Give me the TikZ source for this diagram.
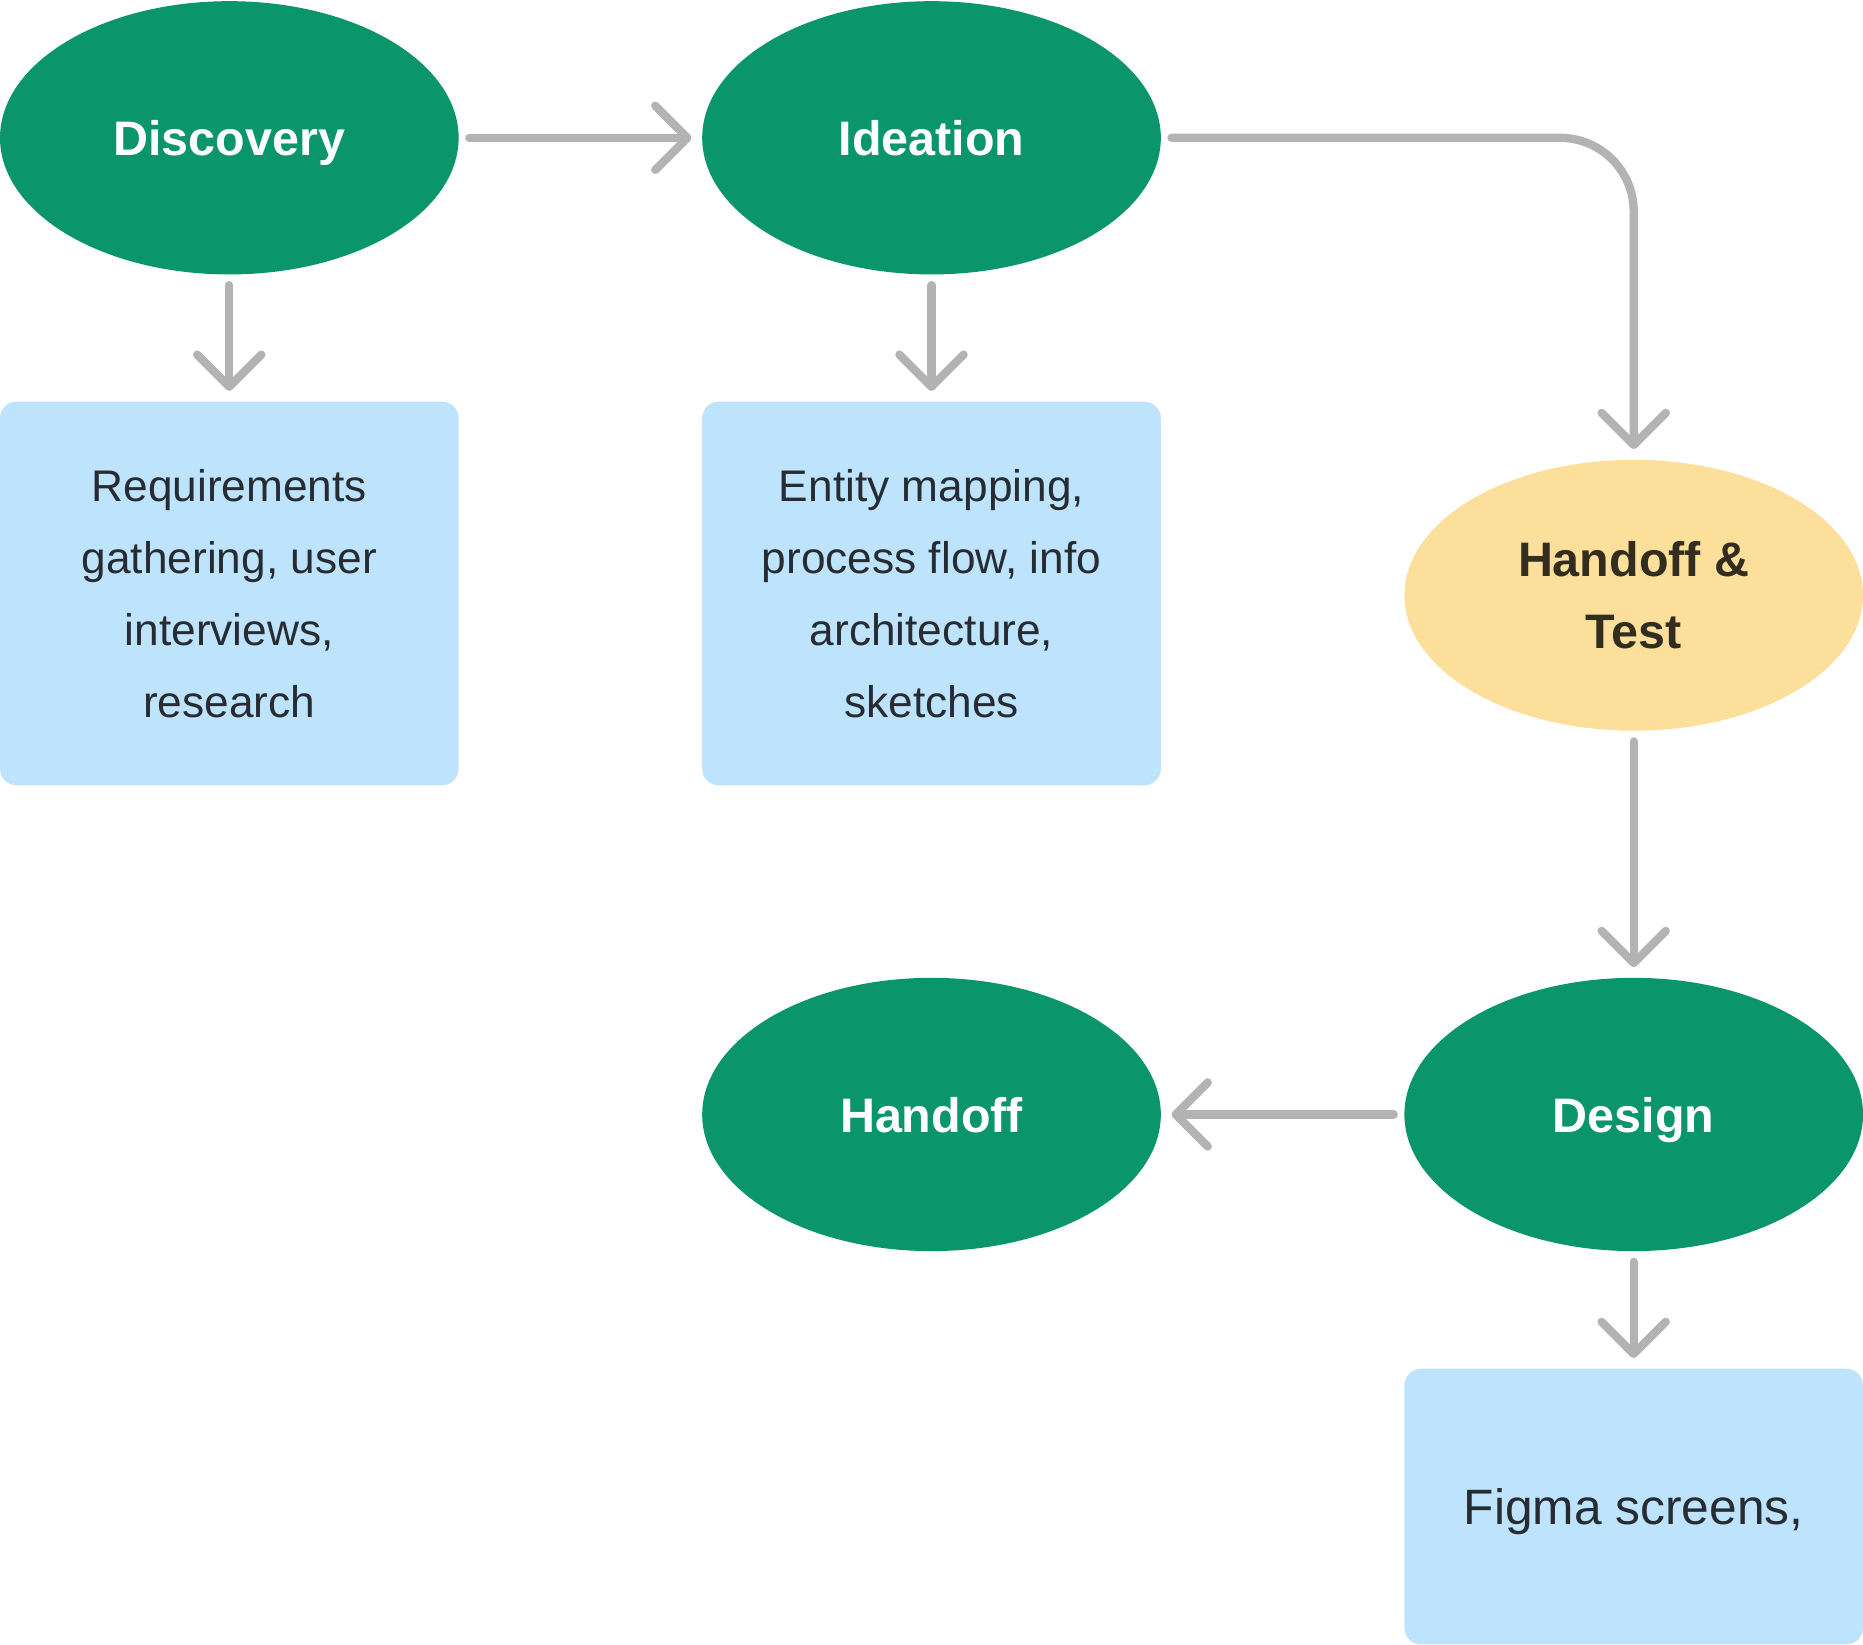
\documentclass[tikz,border=0pt]{standalone}
\usepackage{fontspec}
\setmainfont{Liberation Sans}
\usepackage{tikz}
\usetikzlibrary{shapes.geometric,arrows.meta}
\usepackage{xcolor}
\definecolor{phasegreen}{HTML}{0A966A}
\definecolor{noteblue}{HTML}{BEE3FC}
\definecolor{testyellow}{HTML}{FCDF9A}
\definecolor{arrowgray}{HTML}{B3B3B3}
\definecolor{notetext}{HTML}{272C33}
\definecolor{testtext}{HTML}{332D20}

\begin{document}
\begin{tikzpicture}[
  phase/.style={ellipse, fill=phasegreen, text=white, font=\fontsize{11.6}{17.3}\selectfont\bfseries, minimum width=3.86cm, minimum height=2.3cm, inner sep=0pt, outer sep=0pt, text depth=0pt, align=center},
  note/.style={rectangle, rounded corners=0.14cm, fill=noteblue, text=notetext, font=\fontsize{10.6}{17.2}\selectfont, minimum width=3.86cm, inner sep=0pt, outer sep=0pt, text depth=0pt, align=center},
  flow/.style={-{Straight Barb[length=2.7mm,width=5.4mm,round]}, line width=0.07cm, draw=arrowgray, line cap=round, shorten <=0.09cm, shorten >=0.09cm}]
% Design process
\useasboundingbox (0,0) rectangle (15.68,-13.84);
\node[phase] (disc) at (1.93,-1.16) {Discovery};
\node[phase] (idea) at (7.84,-1.16) {Ideation};
\node[phase, fill=testyellow, text=testtext, minimum height=2.28cm] (test) at (13.75,-5.01) {Handoff \&\\Test};
\node[phase] (design) at (13.75,-9.38) {Design};
\node[phase] (handoff) at (7.84,-9.38) {Handoff};
\node[note, minimum height=3.23cm] (req) at (1.93,-4.995) {Requirements\\gathering, user\\interviews,\\research};
\node[note, minimum height=3.23cm] (sketch) at (7.84,-4.995) {Entity mapping,\\process flow, info\\architecture,\\sketches};
\node[note, minimum height=2.32cm, font=\fontsize{11.9}{17.2}\selectfont] (figma) at (13.75,-12.68) {Figma screens,};
\draw[flow] (disc) -- (idea);
\draw[flow] (disc) -- (req);
\draw[flow] (idea) -- (sketch);
\draw[flow, rounded corners=0.62cm] (idea) -| (test);
\draw[flow] (test) -- (design);
\draw[flow] (design) -- (handoff);
\draw[flow] (design) -- (figma);
\end{tikzpicture}
\end{document}
